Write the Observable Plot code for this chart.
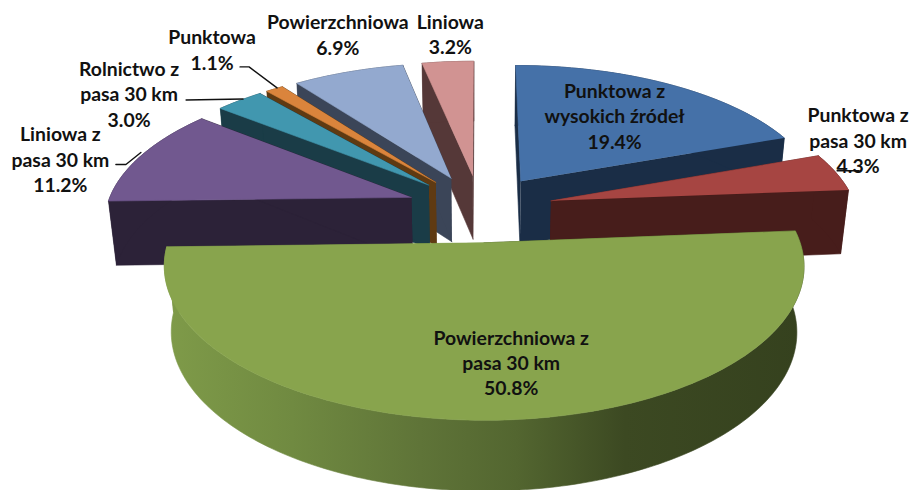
<!DOCTYPE html>
<html lang="pl">
<head>
<meta charset="utf-8">
<script src="https://cdn.jsdelivr.net/npm/d3@7"></script>
<script src="https://cdn.jsdelivr.net/npm/@observablehq/plot@0.6"></script>
<style>html,body{margin:0;padding:0;background:#fff}svg{display:block}</style>
</head>
<body>
<div id="chart"></div>
<script>
// Data, clockwise from the top of the pie
const categories = ["Punktowa z\nwysokich źródeł","Punktowa z\npasa 30 km","Powierzchniowa z\npasa 30 km","Liniowa z\npasa 30 km","Rolnictwo z\npasa 30 km","Punktowa","Powierzchniowa","Liniowa"];
const shares = [19.4,4.3,50.8,11.2,3.0,1.1,6.9,3.2];

// Styles, one per slice
const topColors = ["#4571a8","#a64542","#88a44d","#71588f","#4197af","#da843c","#93a9cf","#d19392"];
const sideColors = ["#1a2d46","#471d1b","url(#greenSide)","#2c2238","#1a3c47","#5f3a12","#3b4558","#553838"];
const paintOrder = [7,6,5,4,3,0,1,2];
// Label offsets from the slice's rim point
const labelShift = [[-54,31],[22.5,-32.5],[6.5,-58],[-81,3],[-110.5,-7.5],[-62.5,-40],[-10.5,-38],[2.5,-28.5]];
const leaderPath = [null,[[1.5,-1.5],[23.5,-1.5]],null,[[-0.5,-3],[-15.5,9],[-25.5,9]],[[3.5,-1.5],[-53.5,-0.5]],[[2.5,-1],[-25.5,-22],[-34.5,-22]],null,null];

// Camera model of the tilted pie
const cx = 479.5, radius = 305, horizon = -745, centerY = 207.5, depth = 0.147, explode = 0.24;
const project = (X, Yb) => {
  const s = 1 / (1 + depth * Yb);
  return [cx + radius * X * s, horizon + (centerY - horizon) * s];
};
const drop = ([px, py]) => {
  const th = 60 + (py - 62) * 0.03;
  return [cx + (px - cx) * (1 - th / 3000), py + th];
};

const total = d3.sum(shares);
let acc = 0;
const slices = shares.map((v, i) => {
  const a0 = acc / total * 2 * Math.PI; acc += v;
  const a1 = acc / total * 2 * Math.PI, mid = (a0 + a1) / 2;
  const ox = explode * Math.sin(mid), oy = explode * Math.cos(mid);
  const at = (a, r) => project(ox + r * Math.sin(a), oy + r * Math.cos(a));
  const n = Math.max(4, Math.ceil((a1 - a0) / 0.02));
  const arc = d3.range(n + 1).map(k => at(a0 + (a1 - a0) * k / n, 1));
  return {i, apex: at(0, 0), arc, rim: at(mid, 1)};
});
const rows = pts => pts.map(([x, y]) => ({x, y}));
const poly = (pts, color) => Plot.line(rows(pts), {x: "x", y: "y", fill: color, stroke: color, strokeWidth: 0.6, curve: "linear"});

const sliceMarks = paintOrder.flatMap(i => {
  const s = slices[i], side = sideColors[i];
  const first = s.arc[0], last = s.arc[s.arc.length - 1];
  return [
    poly([s.apex, first, drop(first), drop(s.apex)], side === "url(#greenSide)" ? "#38441f" : side),
    poly([s.apex, last, drop(last), drop(s.apex)], side === "url(#greenSide)" ? "#7e9a48" : side),
    poly([...s.arc, ...s.arc.map(drop).reverse()], side),
    poly([s.apex, ...s.arc], topColors[i])
  ];
});

const gradient = () => {
  const svg = d3.create("svg:g");
  const g = svg.append("defs").append("linearGradient").attr("id", "greenSide");
  [[0,"#7f9b49"],[0.2,"#708a41"],[0.4,"#5f7438"],[0.55,"#536630"],[0.72,"#3c4922"],[1,"#35411e"]]
    .forEach(([o, c]) => g.append("stop").attr("offset", o).attr("stop-color", c));
  return svg.node();
};

const labels = slices.map(s => ({
  x: s.rim[0] + labelShift[s.i][0],
  y: s.rim[1] + labelShift[s.i][1],
  text: `${categories[s.i]}\n${shares[s.i].toFixed(1)}%`
}));
const leaders = slices.flatMap(s => leaderPath[s.i] ? [Plot.line(
  rows(leaderPath[s.i].map(([dx, dy]) => [s.rim[0] + dx, s.rim[1] + dy])),
  {x: "x", y: "y", stroke: "#111", strokeWidth: 1.4, curve: "linear"})] : []);

const chart = Plot.plot({
  width: 910, height: 490, margin: 0,
  x: {domain: [0, 910], range: [0, 910], axis: null},
  y: {domain: [0, 490], range: [0, 490], axis: null},
  style: {background: "#fff"},
  marks: [
    gradient,
    ...sliceMarks,
    ...leaders,
    Plot.text(labels, {x: "x", y: "y", text: "text", fill: "#111", fontFamily: "Lato", fontWeight: 700, fontSize: 19.4, lineHeight: 1.31, textAnchor: "middle", lineAnchor: "middle"})
  ]
});
document.getElementById("chart").append(chart);
</script>
</body>
</html>
